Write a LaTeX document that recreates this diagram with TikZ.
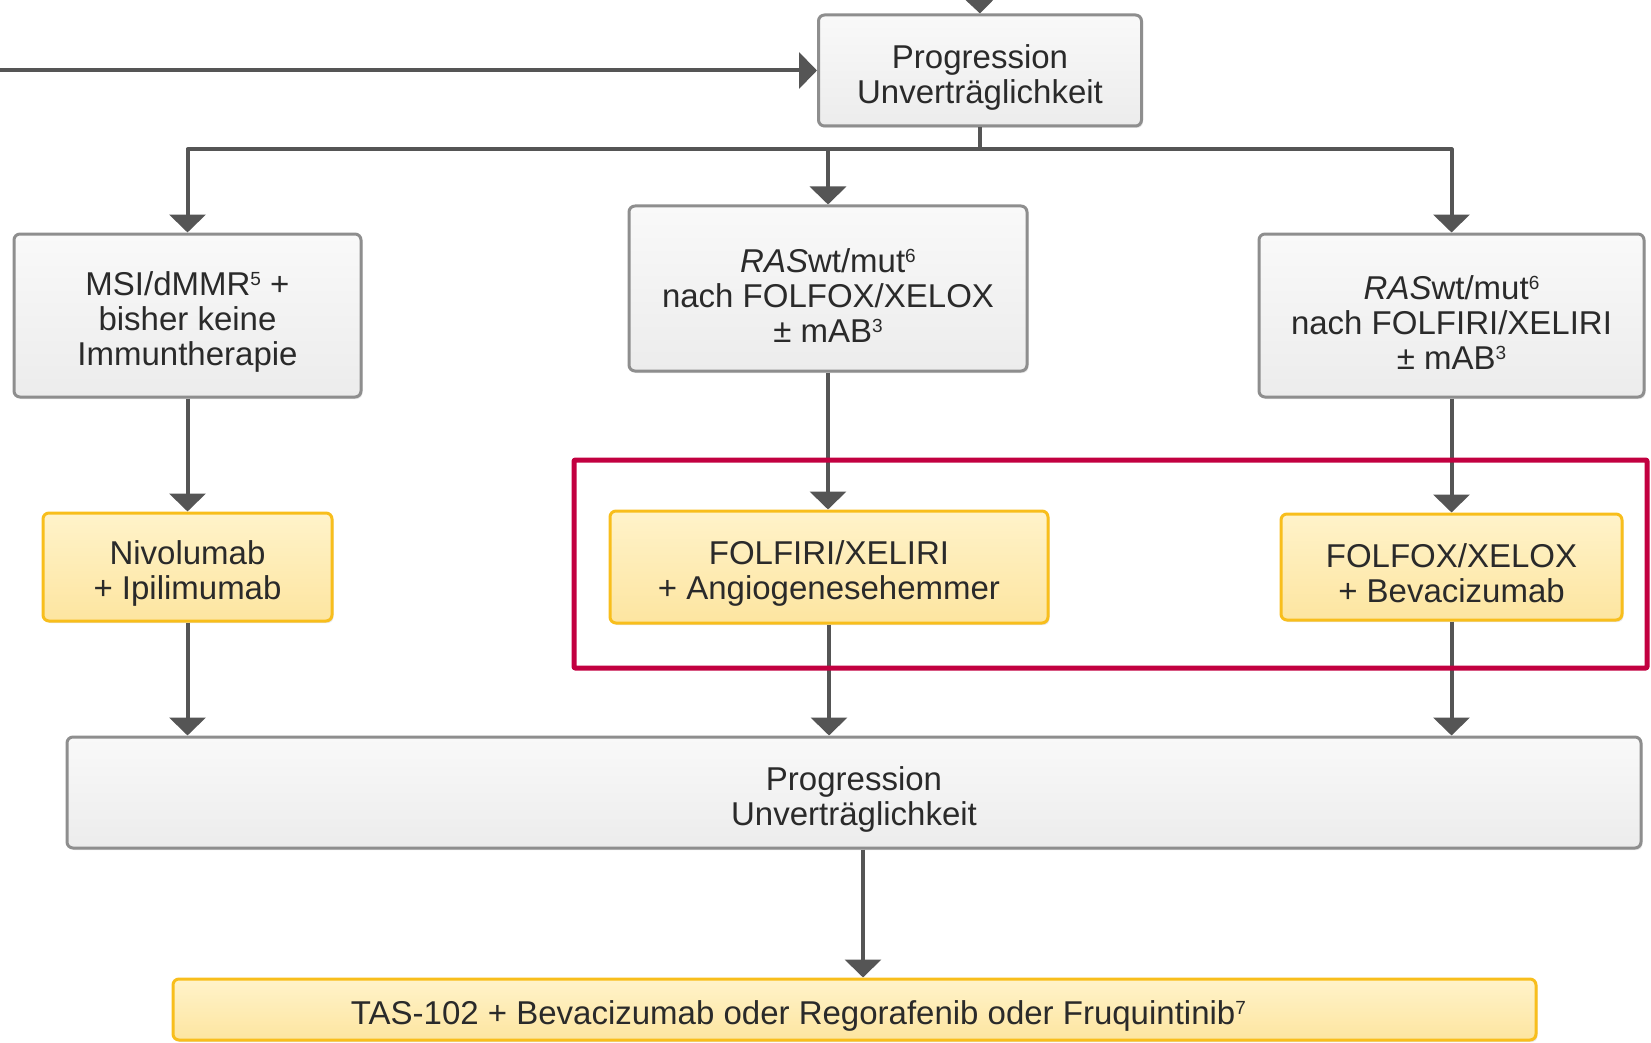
\documentclass[tikz,border=0pt]{standalone}
\usepackage{fontspec}
\setmainfont{Liberation Sans}
\usetikzlibrary{arrows.meta,shadows}
\definecolor{rahmengrau}{HTML}{8E8E8E}
\definecolor{grauhell}{HTML}{F9F9F9}
\definecolor{graudunkel}{HTML}{ECECEC}
\definecolor{liniengrau}{HTML}{555555}
\definecolor{textgrau}{HTML}{2A2A2A}
\definecolor{gold}{HTML}{F8BE1C}
\definecolor{gelbhell}{HTML}{FFF3CA}
\definecolor{gelbdunkel}{HTML}{FDE5A0}
\definecolor{markrot}{HTML}{C20040}
\newcommand{\fn}[1]{\raisebox{.55ex}{\fontsize{19}{19}\selectfont#1}}
\newcommand{\st}{\rule{0pt}{37pt}}

\begin{document}
\begin{tikzpicture}[x=1pt,y=-1pt,line join=round]
	\tikzstyle{box}=[rectangle,rounded corners=6pt,line width=3pt,align=center,inner sep=2pt,text=textgrau,font=\fontsize{33}{35}\selectfont,drop shadow={opacity=.18,shadow xshift=1.5pt,shadow yshift=-2pt}];
	\tikzstyle{grau}=[box,draw=rahmengrau,top color=grauhell,bottom color=graudunkel];
	\tikzstyle{gelb}=[box,draw=gold,top color=gelbhell,bottom color=gelbdunkel];
	\tikzstyle{linie}=[draw=liniengrau,line width=4pt];
	\tikzstyle{pfeil}=[linie,-{Triangle[width=36pt,length=18pt]}];
	\tikzstyle{markbox}=[rectangle,draw=markrot,line width=5pt,rounded corners=1pt];

	\useasboundingbox (0,0) rectangle (1651,1043);

	% obere Ebene
	\node[grau,minimum width=323pt,minimum height=111pt] (prog1) at (980,70.5) {\st Progression\\Unverträglichkeit};
	\coordinate (oben) at (979,-30);
	\coordinate (links) at (0,70.5);
	\coordinate (knick) at (980,149.5);

	% Ausgangssituation
	\node[grau,minimum width=347pt,minimum height=163pt] (msi) at (187.5,315.5) {\st MSI/dMMR\fn{5} +\\bisher keine\\Immuntherapie};
	\node[grau,minimum width=398pt,minimum height=165pt] (rasA) at (828,288.5) {\st\textit{RAS}wt/mut\fn{6}\\nach FOLFOX/XELOX\\± mAB\fn{3}};
	\node[grau,minimum width=385pt,minimum height=163pt] (rasB) at (1451.5,315.5) {\st\textit{RAS}wt/mut\fn{6}\\nach FOLFIRI/XELIRI\\± mAB\fn{3}};

	% Therapien
	\node[gelb,minimum width=289pt,minimum height=108pt] (nivo) at (187.5,567) {\st Nivolumab\\+ Ipilimumab};
	\node[gelb,minimum width=438pt,minimum height=112pt] (folfiri) at (829,567) {\st FOLFIRI/XELIRI\\+ Angiogenesehemmer};
	\node[gelb,minimum width=341pt,minimum height=106pt] (folfox) at (1451.5,567) {\st FOLFOX/XELOX\\+ Bevacizumab};

	% untere Ebene
	\node[grau,minimum width=1574pt,minimum height=111pt] (prog2) at (854,792.5) {\st Progression\\Unverträglichkeit};
	\node[gelb,minimum width=1363pt,minimum height=61pt] (tas) at (854.5,1009.5) {\st TAS-102 + Bevacizumab oder Regorafenib oder Fruquintinib\fn{7}\hspace*{112pt}};
	\coordinate (abzw) at (863,0);

	\draw[pfeil] (oben) -- (prog1.north);
	\draw[pfeil] (links) -- (prog1.west);
	\draw[linie] (prog1.south) -- (knick);
	\draw[pfeil] (knick) -| (msi.north);
	\draw[pfeil] (knick) -| (rasA.north);
	\draw[pfeil] (knick) -| (rasB.north);

	\draw[pfeil] (msi.south) -- (nivo.north);
	\draw[pfeil] (rasA.south) -- (rasA.south |- folfiri.north);
	\draw[pfeil] (rasB.south) -- (folfox.north);

	\draw[pfeil] (nivo.south) -- (nivo.south |- prog2.north);
	\draw[pfeil] (folfiri.south) -- (folfiri.south |- prog2.north);
	\draw[pfeil] (folfox.south) -- (folfox.south |- prog2.north);
	\draw[pfeil] (prog2.south -| abzw) -- (tas.north -| abzw);

	% Markierung
	\node[markbox,minimum width=1073pt,minimum height=208pt] (auswahl) at (1110.5,564) {};
\end{tikzpicture}
\end{document}
